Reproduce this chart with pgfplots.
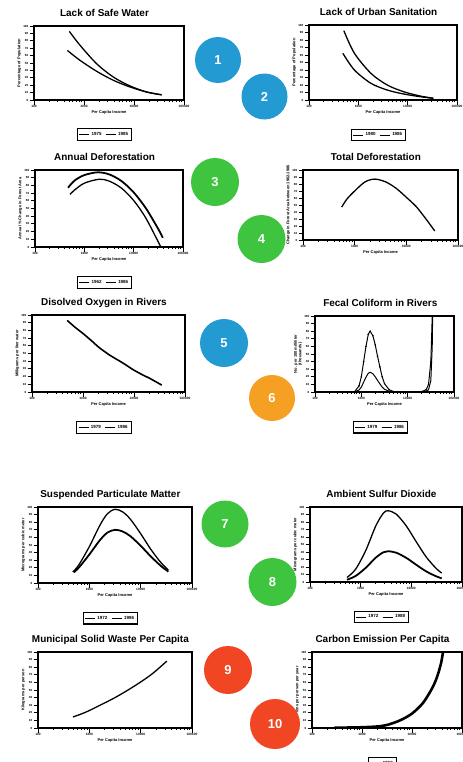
\documentclass[border=0pt]{standalone}
\usepackage{pgfplots}
\pgfplotsset{compat=1.18}
\usepackage{fontspec}
\setmainfont{Liberation Sans}
\definecolor{bluec}{RGB}{35,155,210}
\definecolor{greenc}{RGB}{62,196,62}
\definecolor{orangec}{RGB}{245,160,35}
\definecolor{redc}{RGB}{240,70,35}
\pgfplotsset{
  every axis/.append style={
    scale only axis, xmode=log, xmin=100, xmax=100000, ymin=0, ymax=100,
    /pgf/number format/assume math mode=true,
    xtick={100,1000,10000,100000}, xticklabels={100,1000,10000,100000},
    minor xtick={200,300,400,500,600,700,800,900,2000,3000,4000,5000,6000,7000,8000,9000,20000,30000,40000,50000,60000,70000,80000,90000},
    ytick={0,10,20,30,40,50,60,70,80,90,100},
    axis line style={line width=1.2pt}, tick style={line width=0.9pt, black},
    major tick length=4.5bp, minor tick length=2bp, tick align=outside,
    xtick pos=bottom, ytick pos=left,
    xticklabel style={font=\bfseries\fontsize{3.2}{3.5}\selectfont, inner sep=1pt},
    yticklabel style={font=\bfseries\fontsize{3}{3.5}\selectfont, inner sep=1pt},
    xlabel={Per Capita Income},
    xlabel style={font=\bfseries\fontsize{4}{4.5}\selectfont, inner sep=1pt},
    ylabel style={font=\bfseries\fontsize{4}{4.5}\selectfont, inner sep=1pt, align=center},
    title style={font=\bfseries\fontsize{10}{11}\selectfont, at={(0.47,1)}, anchor=base, yshift=4bp},
    legend style={at={(0.47,-0.38)}, anchor=north, legend columns=-1, draw=black, line width=1.1pt,
      font=\bfseries\fontsize{4.5}{5}\selectfont, inner sep=1.5pt,
      /tikz/every even column/.append style={column sep=2pt}},
    legend image code/.code={\draw[line width=0.7pt] (0,0) -- (10bp,0);},
    anchor=south west,
  },
}
\tikzset{mycurve/.style={black, line width=1.3pt, smooth}}
\begin{document}
\begin{tikzpicture}
\path[use as bounding box] (0,0) rectangle (463bp,-762bp);

% 1 Lack of Safe Water
\begin{axis}[at={(34bp,-100bp)}, width=150bp, height=74bp,
  title={Lack of Safe Water}, ylabel={Percentage of Population}]
\addplot[mycurve] coordinates {(508,92.8) (832,74) (1790,49) (3870,31) (8320,19) (17900,10.8) (35700,7)};
\addplot[mycurve] coordinates {(465,67) (832,53.6) (1790,38.8) (3870,26.6) (8320,17.6) (17900,10.8) (35700,7)};
\legend{1975,1985}
\end{axis}

% 2 Lack of Urban Sanitation
\begin{axis}[at={(309bp,-100bp)}, width=148bp, height=75bp,
  title={Lack of Urban Sanitation}, ylabel={Percentage of Population}]
\addplot[mycurve] coordinates {(508,92.4) (832,62.3) (1795,35.6) (3855,20) (8320,11) (17950,5.3) (33100,2.3)};
\addplot[mycurve] coordinates {(485,62.3) (832,40) (1795,22.3) (3855,13.3) (8320,8) (17950,4.4) (33100,2.3)};
\legend{1980,1986}
\end{axis}

% 3 Annual Deforestation
\begin{axis}[at={(35bp,-247bp)}, width=148bp, height=77bp,
  title={Annual Deforestation}, ylabel={Annual \% Change in Forest Area}]
\addplot[mycurve, line width=1.8pt] coordinates {(468,77) (631,86.2) (1000,93.4) (1862,97) (3162,94.4) (5623,85.8) (10000,71) (17783,50.1) (31623,23.2) (38905,12)};
\addplot[mycurve] coordinates {(513,68.4) (631,73.9) (1000,82.9) (1995,88) (3162,85.7) (5623,76.6) (10000,60.4) (17783,37.2) (35481,0)};
\legend{1962,1986}
\end{axis}

% 4 Total Deforestation
\begin{axis}[at={(303bp,-240bp)}, width=155bp, height=70bp,
  title={Total Deforestation}, ylabel={Change in Forest Area between 1962-1986}]
\addplot[mycurve] coordinates {(562,47) (700,58) (1000,70) (1585,83) (2455,87) (3981,83) (6310,74) (10000,61) (15849,47) (25119,28) (35481,13)};
\end{axis}

% 5 Dissolved Oxygen
\begin{axis}[at={(32bp,-392bp)}, width=153bp, height=77bp,
  title={Disolved Oxygen in Rivers}, ylabel={Milligrams per liter water}]
\addplot[mycurve, line width=1.6pt] coordinates {(490,93) (700,84) (1000,76) (1500,66) (2140,57) (3500,47) (5000,41) (7000,35) (9600,29) (15000,22) (20000,18) (35000,9)};
\addlegendentry{1979}
\addlegendimage{black}
\addlegendentry{1986}
\end{axis}

% 6 Fecal Coliform
\begin{axis}[at={(315bp,-392bp)}, width=139bp, height=76bp,
  title={Fecal Coliform in Rivers}, ylabel={No. per 100 milliliter\\(thousands)}]
\addplot[black, line width=1pt, mark=*, mark size=0.6pt, mark options={line width=0.3pt}] coordinates {(708,0) (891,8) (1000,20) (1122,40) (1259,60) (1413,76) (1549,80) (1778,74) (1995,62) (2239,47) (2512,33) (2818,20) (3162,11) (3981,3) (5012,0.5) (7943,0) (12589,0) (19953,0.5) (25119,3) (28184,10) (31623,40) (32800,70) (33884,100) (34500,110)};
\addplot[black, line width=1pt] coordinates {(708,0) (891,2.6) (1000,6.5) (1122,13) (1259,19.5) (1413,24.7) (1549,26) (1778,24) (1995,20) (2239,15.3) (2512,10.7) (2818,6.5) (3162,3.6) (3981,1) (5012,0.2) (7943,0) (12589,0) (19953,0.2) (25119,1) (28184,3) (31623,15) (33884,60) (34674,105)};
\legend{1979,1986}
\end{axis}

% 7 Suspended Particulate Matter
\begin{axis}[at={(38bp,-583bp)}, width=154bp, height=76bp,
  title={Suspended Particulate Matter}, ylabel={Micrograms per cubic meter}]
\addplot[mycurve] coordinates {(479,14.5) (631,24.3) (1000,47.9) (1585,75.2) (2239,91) (3162,97) (4467,93.5) (6310,83.9) (10000,64.9) (15849,44.1) (25119,26.4) (34674,17)};
\addplot[mycurve, line width=1.8pt] coordinates {(501,14.1) (631,20.6) (1000,37.5) (1585,55.9) (2239,66.2) (3162,70) (4467,67.8) (6310,61.6) (10000,49) (15849,34.8) (25119,22.1) (34674,15)};
\legend{1972,1986}
\end{axis}

% 8 Ambient Sulfur Dioxide
\begin{axis}[at={(310bp,-582bp)}, width=152bp, height=75bp,
  title={Ambient Sulfur Dioxide}, ylabel={Micrograms per cubic meter}]
\addplot[mycurve] coordinates {(537,6) (794,17) (1259,42) (1995,75) (2818,92) (3467,95) (5012,90.6) (7943,74.8) (12589,53.3) (19953,32.8) (31623,17.4) (39811,12)};
\addplot[mycurve, line width=1.8pt] coordinates {(537,3) (794,8) (1259,18.9) (1995,32.6) (2818,39.7) (3467,41) (5012,39.1) (7943,32.2) (12589,22.8) (19953,13.9) (31623,7.3) (39811,5)};
\legend{1972,1988}
\end{axis}

% 9 Municipal Solid Waste
\begin{axis}[at={(38bp,-728bp)}, width=154bp, height=76bp,
  title={Municipal Solid Waste Per Capita}, ylabel={Kilograms per person}]
\addplot[mycurve] coordinates {(479,14.5) (700,18.5) (1000,23) (1622,30) (3162,40) (7079,54) (15849,70) (32359,88)};
\end{axis}

% 10 Carbon Emission
\begin{axis}[at={(312bp,-728bp)}, width=150bp, height=76bp,
  title={Carbon Emission Per Capita}, ylabel={Tons per person per year}]
\addplot[mycurve, line width=2.6pt] coordinates {(282,0.3) (500,0.6) (1000,1) (2000,2) (3162,4) (5754,10) (10000,19) (16596,33) (25119,52) (31623,67) (38019,85) (41687,100)};
\legend{1960,1989}
\end{axis}

% numbered circles
\fill[bluec] (218bp,-60bp) circle (23bp);
\fill[bluec] (264.5bp,-96.5bp) circle (23bp);
\fill[greenc] (215bp,-182bp) circle (24bp);
\fill[greenc] (261.5bp,-239bp) circle (24bp);
\fill[bluec] (224bp,-343bp) circle (24bp);
\fill[orangec] (272bp,-398bp) circle (23bp);
\fill[greenc] (225bp,-524bp) circle (23.5bp);
\fill[greenc] (272.5bp,-582bp) circle (24bp);
\fill[redc] (228bp,-670bp) circle (24bp);
\fill[redc] (275bp,-724bp) circle (25bp);
\begin{scope}[every node/.style={text=white, font=\bfseries\fontsize{13}{13}\selectfont}]
\node at (218bp,-60bp) {1};
\node at (264.5bp,-96.5bp) {2};
\node at (215bp,-182bp) {3};
\node at (261.5bp,-239bp) {4};
\node at (224bp,-343bp) {5};
\node at (272bp,-398bp) {6};
\node at (225bp,-524bp) {7};
\node at (272.5bp,-582bp) {8};
\node at (228bp,-670bp) {9};
\node at (275bp,-724bp) {10};
\end{scope}
\end{tikzpicture}
\end{document}
